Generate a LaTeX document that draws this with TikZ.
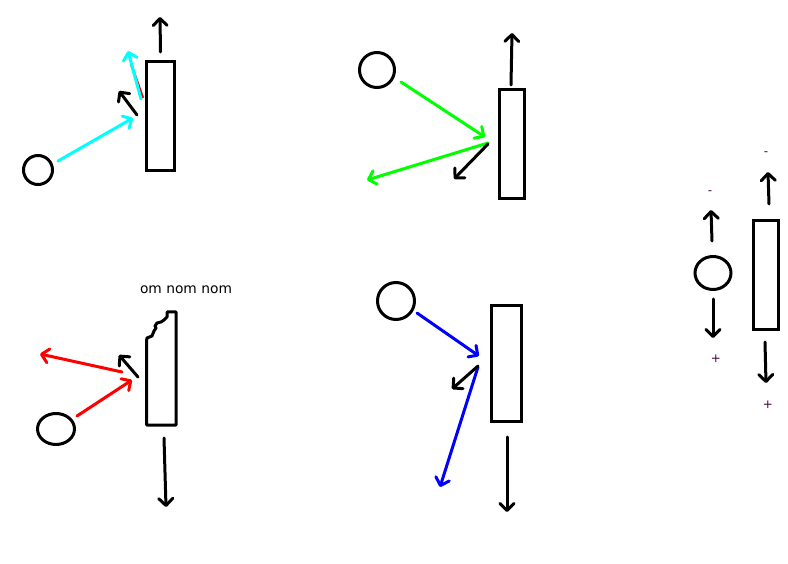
\documentclass[tikz,border=0pt]{standalone}
\usepackage{fontspec}
\setmainfont{DejaVu Sans}
\usetikzlibrary{arrows.meta,shapes.geometric}
\definecolor{cyanA}{RGB}{0,255,255}
\definecolor{greenA}{RGB}{0,255,0}
\definecolor{blueA}{RGB}{0,0,255}
\definecolor{redA}{RGB}{255,0,0}
\definecolor{signc}{RGB}{64,0,64}
\begin{document}
\begin{tikzpicture}[x=1pt,y=-1pt,
  outl/.style={draw=black,line width=3pt},
  ball/.style={outl,circle,inner sep=0pt,minimum size=#1},
  oval/.style={outl,ellipse,inner sep=0pt},
  bar/.style={outl,rectangle,inner sep=0pt},
  arr/.style={line width=3pt,line cap=round,-{Straight Barb[length=7pt,width=14pt,line cap=round,round]}},
  sign/.style={text=signc,font=\fontsize{12}{14}\selectfont,inner sep=0pt}
]
\useasboundingbox (0,0) rectangle (788,564);
\fill[white] (0,0) rectangle (788,564);

% ---------- panel 1 (top-left)
\node[ball=29pt] (b1) at (38,170) {};
\node[bar,minimum width=28pt,minimum height=109pt] (r1) at (160.5,116) {};
\coordinate (p1a) at (58,161);   \coordinate (p1b) at (133,118);
\coordinate (p1c) at (137,115);  \coordinate (p1d) at (119,91);
\coordinate (p1e) at (141,99);   \coordinate (p1f) at (128,51);
\coordinate (p1g) at (143,98);   \coordinate (p1h) at (131,64);
\coordinate (p1i) at (160.5,52); \coordinate (p1j) at (160,17);
\draw[arr,cyanA] (p1a) -- (p1b);
\draw[arr,black] (p1c) -- (p1d);
\draw[redA,line width=2.4pt] (p1g) -- (p1h);
\draw[arr,cyanA] (p1e) -- (p1f);
\draw[arr,black] (p1i) -- (p1j);

% ---------- panel 2 (top-middle)
\node[ball=35pt] (b2) at (377,70) {};
\node[bar,minimum width=25pt,minimum height=109pt] (r2) at (512,144) {};
\coordinate (p2a) at (401,82);  \coordinate (p2b) at (485,137);
\coordinate (p2c) at (488,143); \coordinate (p2d) at (367,180);
\coordinate (p2e) at (488,144); \coordinate (p2f) at (454,179);
\coordinate (p2g) at (511,85);  \coordinate (p2h) at (512,33);
\draw[arr,greenA] (p2a) -- (p2b);
\draw[arr,greenA] (p2c) -- (p2d);
\draw[arr,black] (p2e) -- (p2f);
\draw[arr,black] (p2g) -- (p2h);

% ---------- panel 3 (bottom-left)
\node[font=\fontsize{13.8}{16}\selectfont,inner sep=0pt] (t3) at (186,289.5) {om nom nom};
\draw[outl,line join=round]
  (176,312) -- (167,312) -- (167,317) -- (164,320) -- (161,322) -- (157,323)
  -- (155,326) -- (156,328) -- (154,331) -- (152,336) -- (147,338) -- (146.5,341)
  -- (146.5,425) -- (176,425) -- cycle;
\node[oval,minimum width=37pt,minimum height=31pt] (b3) at (56,429) {};
\coordinate (p3a) at (77,416);  \coordinate (p3b) at (132,380);
\coordinate (p3c) at (122,372); \coordinate (p3d) at (40,354);
\coordinate (p3e) at (138,377); \coordinate (p3f) at (119,355);
\coordinate (p3g) at (164,438); \coordinate (p3h) at (166,507);
\draw[arr,redA] (p3a) -- (p3b);
\draw[arr,redA] (p3c) -- (p3d);
\draw[arr,black] (p3e) -- (p3f);
\draw[arr,black] (p3g) -- (p3h);

% ---------- panel 4 (bottom-middle)
\node[ball=37pt] (b4) at (396,301) {};
\node[bar,minimum width=30pt,minimum height=116pt] (r4) at (506.5,363.5) {};
\coordinate (p4a) at (417,313); \coordinate (p4b) at (479,356);
\coordinate (p4c) at (478,367); \coordinate (p4d) at (440,487);
\coordinate (p4e) at (478,366); \coordinate (p4f) at (452,389);
\coordinate (p4g) at (507,437); \coordinate (p4h) at (507,512);
\draw[arr,blueA] (p4a) -- (p4b);
\draw[arr,blueA] (p4c) -- (p4d);
\draw[arr,black] (p4e) -- (p4f);
\draw[arr,black] (p4g) -- (p4h);

% ---------- panel 5 (right)
\node[oval,minimum width=36pt,minimum height=33pt] (b5) at (713,273) {};
\node[bar,minimum width=25pt,minimum height=109pt] (r5) at (766,275) {};
\coordinate (p5a) at (712,241); \coordinate (p5b) at (711,210);
\coordinate (p5c) at (713,299); \coordinate (p5d) at (713,338);
\coordinate (p5e) at (769,204); \coordinate (p5f) at (768,172);
\coordinate (p5g) at (765,342); \coordinate (p5h) at (766,383);
\draw[arr,black] (p5a) -- (p5b);
\draw[arr,black] (p5c) -- (p5d);
\draw[arr,black] (p5e) -- (p5f);
\draw[arr,black] (p5g) -- (p5h);
\node[sign] (m1) at (710,193) {-};
\node[sign] (pl1) at (716,359) {+};
\node[sign] (m2) at (766,154) {-};
\node[sign] (pl2) at (768,405) {+};
\end{tikzpicture}
\end{document}
